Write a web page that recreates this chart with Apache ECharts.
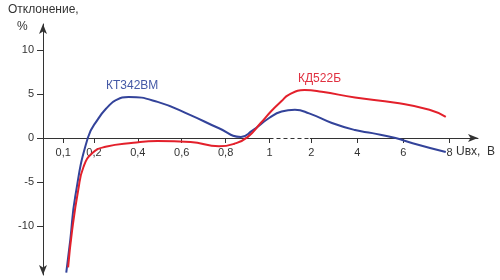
<!DOCTYPE html>
<html><head><meta charset="utf-8">
<script src="https://cdn.jsdelivr.net/npm/echarts@6/dist/echarts.min.js"></script>
<style>html,body{margin:0;padding:0;background:#fff}#c{width:500px;height:280px}</style>
</head><body><div id="c"></div>
<script>
// ---- data ----
const xTickValues = [0.1, 0.2, 0.4, 0.6, 0.8, 1, 2, 4, 6, 8];
const xTickLabels = ['0,1', '0,2', '0,4', '0,6', '0,8', '1', '2', '4', '6', '8'];
const yTickValues = [-10, -5, 0, 5, 10];
const yTickLabels = ['-10', '-5', '0', '5', '10'];
const seriesNames = ['КТ342ВМ', 'КД522Б'];

const kt342U   = [0.110, 0.123, 0.139, 0.18, 0.22, 0.262, 0.30, 0.358, 0.49, 0.64, 0.77, 0.87, 0.92, 1.0, 1.29, 1.61, 1.95, 2.9, 3.9, 4.65, 5.66, 6.4, 7.84];
const kt342Dev = [-15.3, -11.6, -6.7, 0, 2.2, 3.5, 4.3, 4.66, 4.1, 2.6, 1.1, 0.12, 0.8, 2.3, 3.0, 3.2, 2.8, 1.7, 0.9, 0.55, 0, -0.6, -1.6];

const kd522U   = [0.116, 0.129, 0.149, 0.166, 0.195, 0.253, 0.38, 0.49, 0.64, 0.77, 0.84, 0.90, 0.96, 1.05, 1.29, 1.46, 1.84, 2.46, 3.9, 5.66, 7.13, 7.84];
const kd522Dev = [-14.7, -10.5, -5.9, -3.3, -1.7, -1.0, -0.55, -0.35, -0.45, -0.95, -0.65, 0.1, 1.7, 3.1, 4.2, 4.9, 5.45, 5.25, 4.6, 4.0, 3.2, 2.4];

// ---- non-uniform x axis scale (piecewise linear, as drawn in the original) ----
function scaleX(v) {
  if (v <= 0.2) return (v - 0.1) / 0.1 * 0.7;
  if (v <= 1) return 0.7 + (v - 0.2) / 0.2;
  if (v <= 2) return 4.7 + (v - 1) * 0.95;
  return 5.65 + (v - 2) / 2 * 1.05;
}
const xTickPos = xTickValues.map(scaleX);
function xLabel(u) {
  let best = 0;
  xTickPos.forEach((p, i) => { if (Math.abs(p - u) < Math.abs(xTickPos[best] - u)) best = i; });
  return xTickLabels[best];
}
function yLabel(v) {
  const i = yTickValues.indexOf(v);
  return i >= 0 ? yTickLabels[i] : '';
}
const pairs = (xs, ys) => xs.map((x, i) => [scaleX(x), ys[i]]);

const FONT = 'Liberation Sans, Arial, sans-serif';
const AX = '#333';
const BLUE = '#33439a';
const RED = '#e3202b';

const chart = echarts.init(document.getElementById('c'));
chart.setOption({
  animation: false,
  backgroundColor: '#fff',
  grid: { left: 43, right: 22, top: 24, bottom: 5, containLabel: false, outerBoundsMode: 'none' },
  xAxis: {
    type: 'value', min: -0.46, max: 9.45, position: 'bottom', offset: -137,
    axisLine: { onZero: false, lineStyle: { color: AX, width: 1 }, symbol: ['none', 'arrow'], symbolSize: [6, 10] },
    axisTick: { show: true, length: 5, customValues: xTickPos, lineStyle: { color: AX } },
    axisLabel: { customValues: xTickPos, formatter: xLabel, color: '#333', fontSize: 11, fontFamily: FONT, margin: 9 },
    splitLine: { show: false }
  },
  yAxis: {
    type: 'value', min: -15.57, max: 12.95,
    axisLine: { onZero: false, lineStyle: { color: AX, width: 1 }, symbol: ['arrow', 'arrow'], symbolSize: [6, 10] },
    axisTick: { show: true, length: 6, customValues: yTickValues, lineStyle: { color: AX } },
    axisLabel: { customValues: yTickValues, formatter: yLabel, color: '#333', fontSize: 11, fontFamily: FONT, margin: 9 },
    splitLine: { show: false }
  },
  series: [
    {
      name: 'axis-gap', type: 'line', data: [], silent: true,
      markLine: {
        silent: true, symbol: 'none', label: { show: false }, animation: false,
        data: [
          [{ coord: [scaleX(1) + 0.03, 0], lineStyle: { color: '#fff', width: 3, type: 'solid' } }, { coord: [scaleX(2) - 0.03, 0] }],
          [{ coord: [scaleX(1), 0], lineStyle: { color: AX, width: 1, type: [4, 3] } }, { coord: [scaleX(2), 0] }]
        ]
      }
    },
    {
      name: seriesNames[0], type: 'line', data: pairs(kt342U, kt342Dev),
      smooth: 0.5, showSymbol: false, clip: false,
      lineStyle: { color: BLUE, width: 2 }, z: 3
    },
    {
      name: seriesNames[1], type: 'line', data: pairs(kd522U, kd522Dev),
      smooth: 0.5, showSymbol: false, clip: false,
      lineStyle: { color: RED, width: 2 }, z: 4
    }
  ],
  graphic: [
    { type: 'text', left: 8, top: 4, style: { text: 'Отклонение,', font: '12px ' + FONT, fill: '#333' } },
    { type: 'text', left: 17, top: 21, style: { text: '%', font: '12px ' + FONT, fill: '#333' } },
    { type: 'text', left: 456, top: 146, style: { text: 'Uвх,  В', font: '12px ' + FONT, fill: '#333' } },
    { type: 'text', left: 106, top: 80, style: { text: seriesNames[0], font: '12px ' + FONT, fill: '#4459a6' } },
    { type: 'text', left: 298, top: 73, style: { text: seriesNames[1], font: '12px ' + FONT, fill: '#e03040' } }
  ]
});
</script>
</body></html>
